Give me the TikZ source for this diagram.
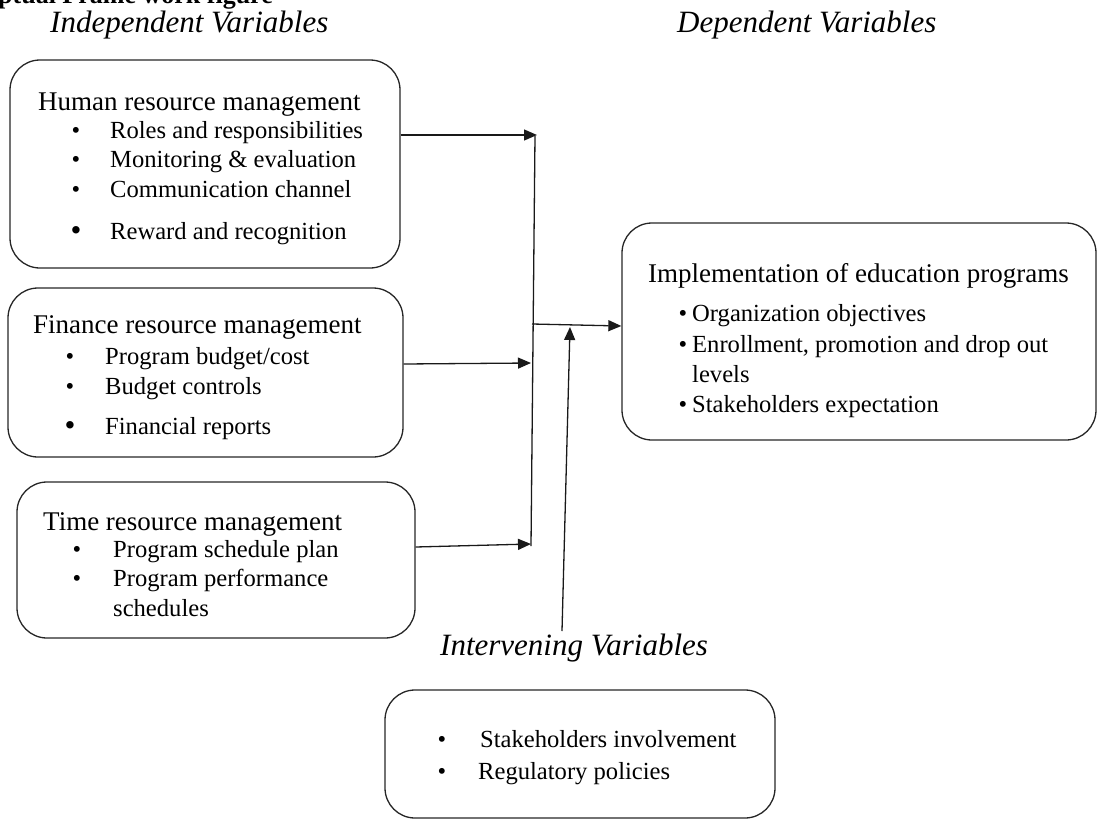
\documentclass[tikz,border=0pt]{standalone}
\usepackage{fontspec}
\setmainfont{Liberation Serif}
\usetikzlibrary{arrows.meta}
\begin{document}
\begin{tikzpicture}[x=1pt,y=-1pt,
  box/.style={draw=black!85, line width=1.3pt, rounded corners=30pt, inner sep=0pt},
  hd/.style={anchor=base west, inner sep=0pt, font=\fontsize{27}{30}\selectfont},
  itm/.style={anchor=base west, inner sep=0pt, font=\fontsize{24.6}{28}\selectfont},
  bul/.style={anchor=base, inner sep=0pt, font=\fontsize{24.6}{28}\selectfont},
  bigbul/.style={anchor=base, inner sep=0pt, font=\fontsize{31}{28}\selectfont},
  vhead/.style={anchor=base west, inner sep=0pt, font=\fontsize{31}{34}\selectfont\itshape},
  arr/.style={draw=black!90, line width=1.3pt, -{Triangle[length=13pt,width=11pt]}},
  ln/.style={draw=black!90, line width=1.3pt}]
\useasboundingbox (0,0) rectangle (1098,819);

% title (cut off at top, as in the source)
\node[anchor=base west, inner sep=0pt, font=\fontsize{26}{28}\selectfont\bfseries] (title) at (-2,3) {ptual Frame work figure};

% column headings
\node[vhead] (indep) at (50,32) {Independent Variables};
\node[vhead] (dep) at (677,32) {Dependent Variables};
\node[vhead] (interv) at (440,655) {Intervening Variables};

% boxes
\node[box, minimum width=390pt, minimum height=208pt] (hrm) at (205,164) {};
\node[box, minimum width=395pt, minimum height=169pt] (frm) at (205.5,372.5) {};
\node[box, minimum width=398pt, minimum height=156pt] (trm) at (216,560) {};
\node[box, minimum width=474pt, minimum height=217pt] (impl) at (859,331.5) {};
\node[box, minimum width=390pt, minimum height=128pt] (ivb) at (580,754) {};

% HRM text
\node[hd] (hrmh) at (38,110) {Human resource management};
\node[bul] (hb1) at (76,138) {•};
\node[itm] (hi1) at (110,138) {Roles and responsibilities};
\node[bul] (hb2) at (76,167) {•};
\node[itm] (hi2) at (110,167) {Monitoring \& evaluation};
\node[bul] (hb3) at (76,197) {•};
\node[itm] (hi3) at (110,197) {Communication channel};
\node[bigbul] (hb4) at (76,240) {•};
\node[itm] (hi4) at (110,239) {Reward and recognition};

% FRM text
\node[hd] (frmh) at (33,333) {Finance resource management};
\node[bul] (fb1) at (70,364) {•};
\node[itm] (fi1) at (105,364) {Program budget/cost};
\node[bul] (fb2) at (70,394) {•};
\node[itm] (fi2) at (105,394) {Budget controls};
\node[bigbul] (fb3) at (70,435) {•};
\node[itm] (fi3) at (105,434) {Financial reports};

% TRM text
\node[hd] (trmh) at (43,530) {Time resource management};
\node[bul] (tb1) at (77,557) {•};
\node[itm] (ti1) at (113,557) {Program schedule plan};
\node[bul] (tb2) at (77,586) {•};
\node[itm] (ti2) at (113,586) {Program performance};
\node[itm] (ti3) at (113,616) {schedules};

% Implementation text
\node[hd] (implh) at (648,282) {Implementation of education programs};
\node[bul] (ib1) at (683,321) {•};
\node[itm] (ii1) at (692,321) {Organization objectives};
\node[bul] (ib2) at (683,352) {•};
\node[itm] (ii2) at (692,352) {Enrollment, promotion and drop out};
\node[itm] (ii3) at (692,382) {levels};
\node[bul] (ib3) at (683,412) {•};
\node[itm] (ii4) at (692,412) {Stakeholders expectation};

% Intervening text
\node[bul] (vb1) at (442,747) {•};
\node[itm] (vi1) at (480,747) {Stakeholders involvement};
\node[bul] (vb2) at (442,779) {•};
\node[itm] (vi2) at (478,779) {Regulatory policies};

% connectors
\coordinate (t1) at (537,135);
\coordinate (vtop) at (535,136);
\coordinate (vbot) at (531,546);
\coordinate (t2) at (531,363);
\coordinate (t3) at (531,544);
\coordinate (jn) at (532,324);
\coordinate (ubot) at (562,631);
\coordinate (utop) at (570,327);

\draw[arr] (hrm.east |- t1) -- (t1);
\draw[ln] (vtop) -- (vbot);
\draw[arr] (frm.east |- 0,364) -- (t2);
\draw[arr] (trm.east |- 0,547) -- (t3);
\draw[arr] (jn) -- (impl.west |- 0,326);
\draw[arr] (ubot) -- (utop);
\end{tikzpicture}
\end{document}
